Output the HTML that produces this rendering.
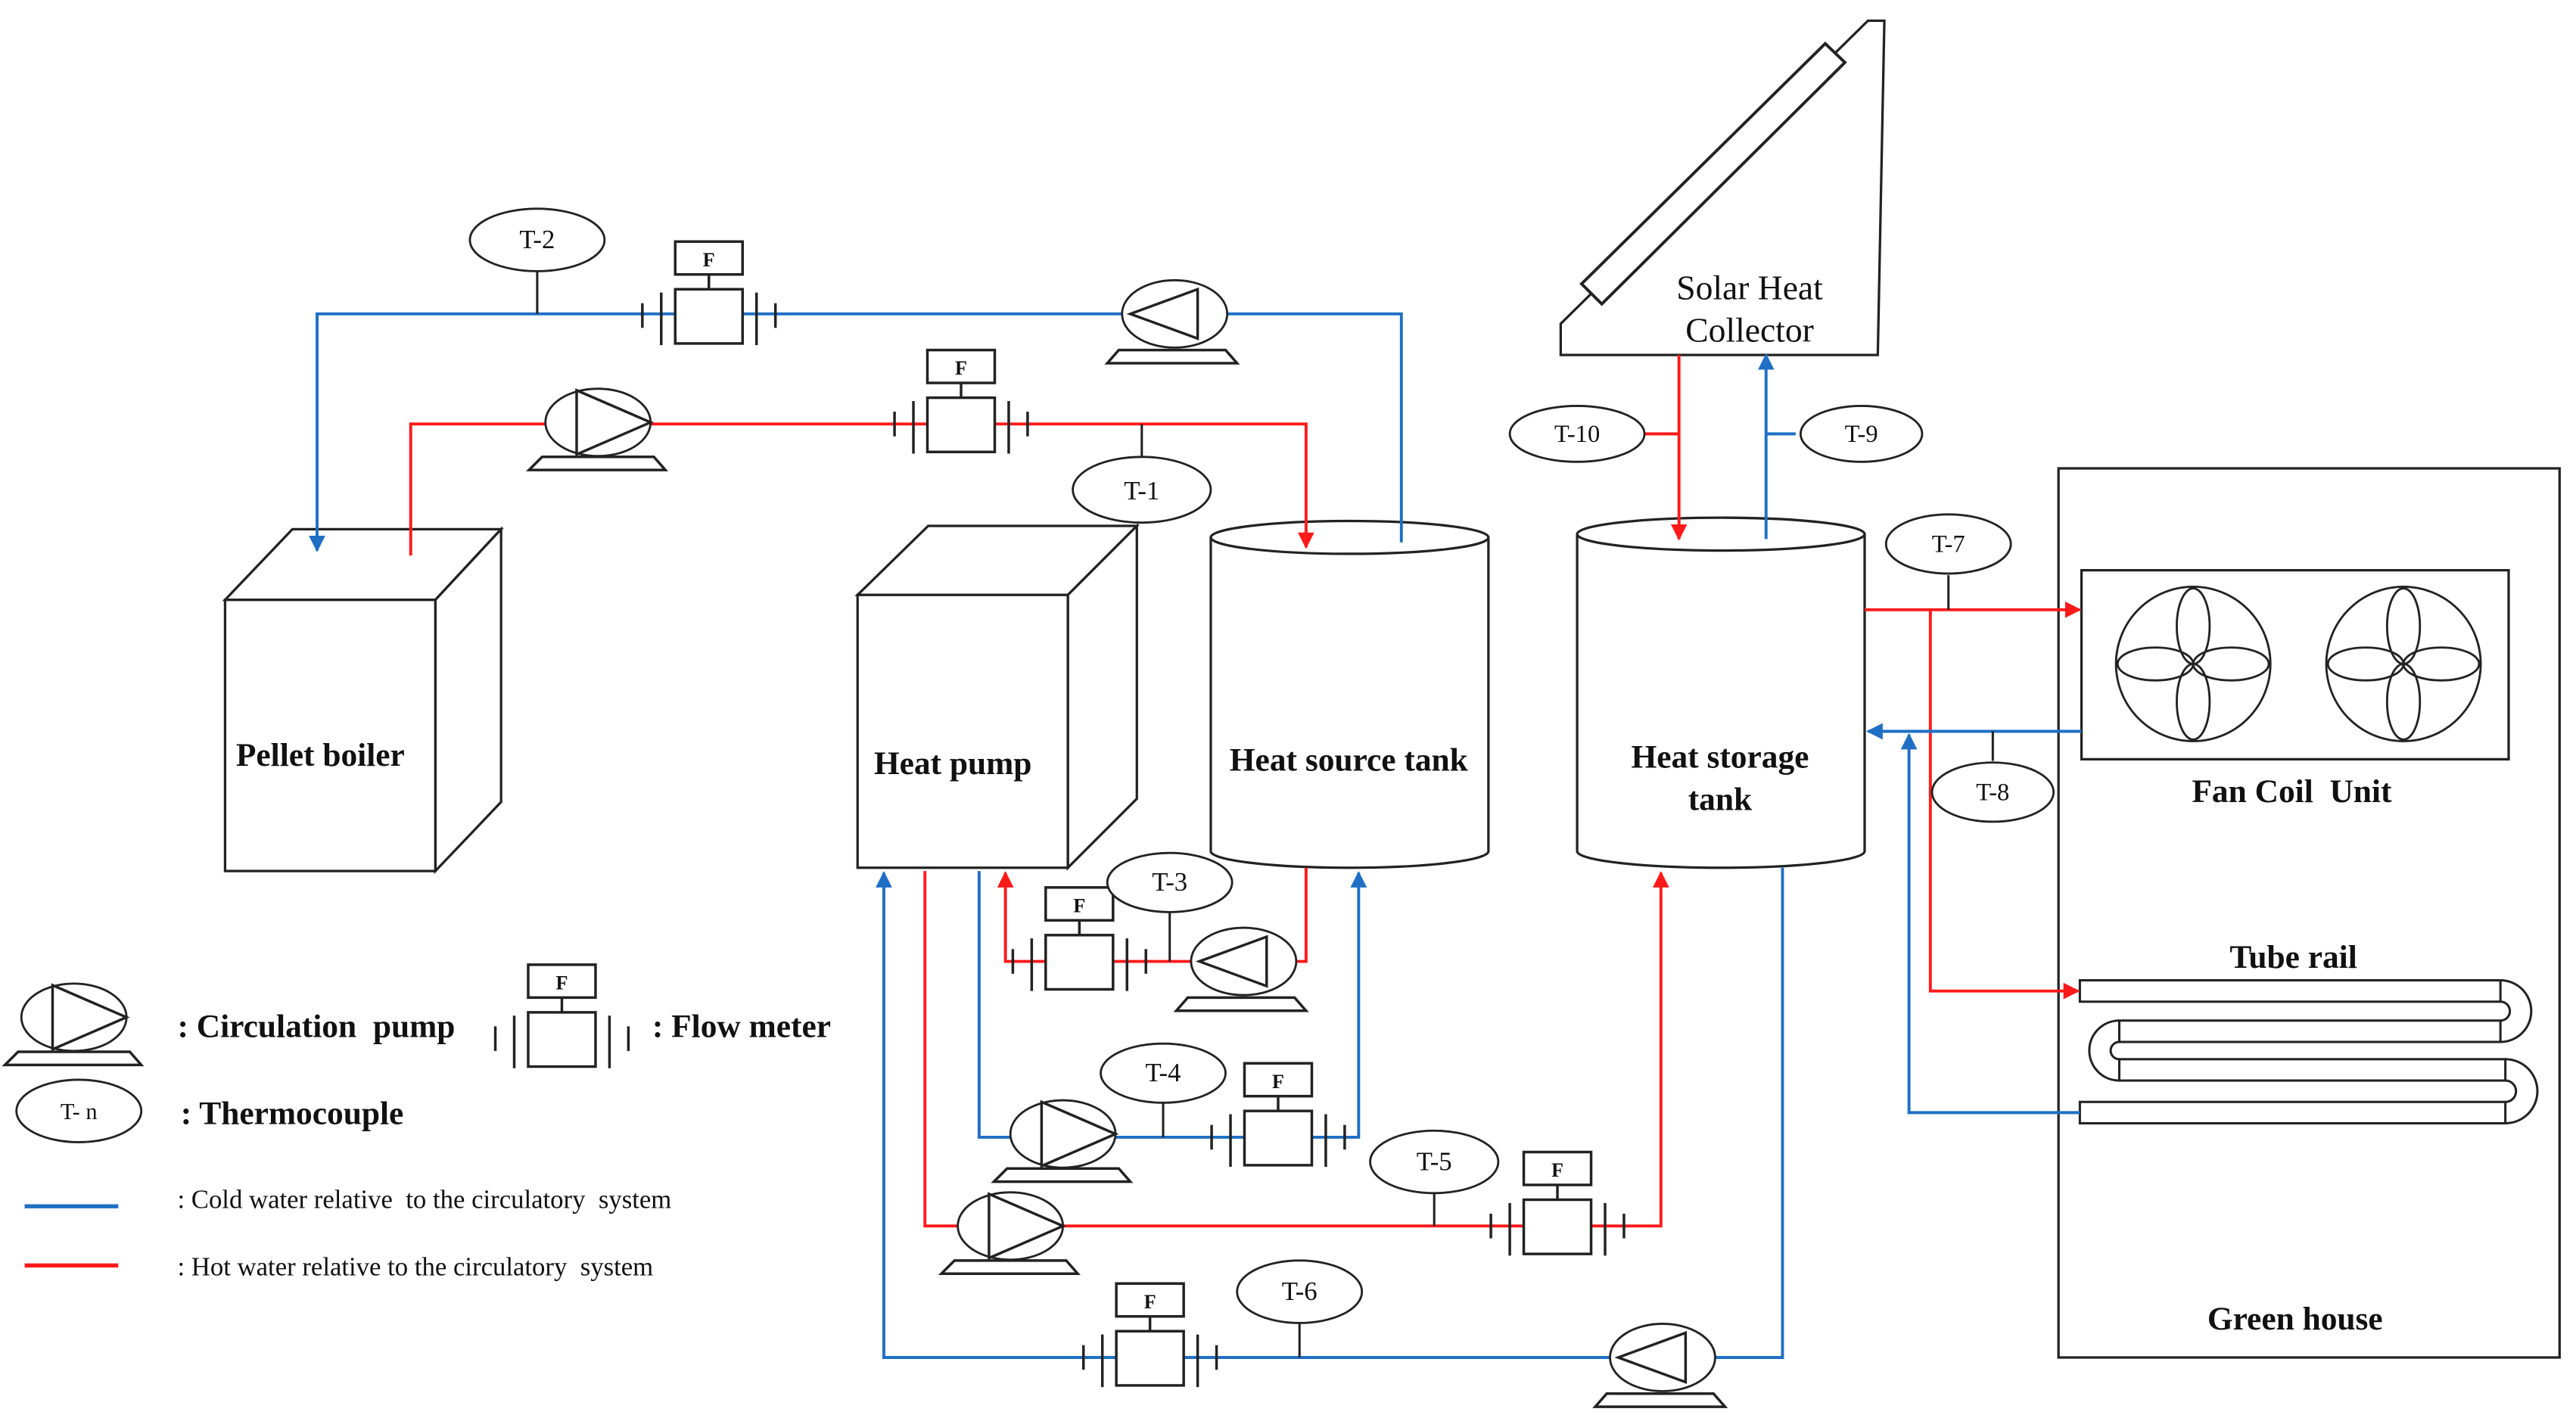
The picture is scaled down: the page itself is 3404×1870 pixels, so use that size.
<!DOCTYPE html>
<html><head><meta charset="utf-8"><style>
html,body{margin:0;padding:0;background:#fff;}
svg{display:block;font-family:"Liberation Serif","DejaVu Serif",serif;}
text{font-family:"Liberation Serif","DejaVu Serif",serif;fill:#111;}
</style></head><body>
<svg width="3404" height="1870" viewBox="0 0 1568 861" preserveAspectRatio="none" xmlns="http://www.w3.org/2000/svg">
<defs>
<marker id="ar" markerWidth="10" markerHeight="10" refX="9" refY="5" orient="auto" markerUnits="userSpaceOnUse"><path d="M0,0 L10,5 L0,10 z" fill="#ff1a1a"/></marker>
<marker id="ab" markerWidth="10" markerHeight="10" refX="9" refY="5" orient="auto" markerUnits="userSpaceOnUse"><path d="M0,0 L10,5 L0,10 z" fill="#1f6fc4"/></marker>
<g id="pumpR" fill="#fff" stroke="#222" stroke-width="1.3">
<ellipse cx="0" cy="0" rx="32" ry="20.5"/>
<path d="M-13,-19.5 L-13,19.5 L32,0 Z" fill="none" stroke-width="1.6"/>
<path d="M-34,21 L34,21 L41,29 L-42,29 Z" stroke-width="1.6"/>
</g>
<g id="pumpL" fill="#fff" stroke="#222" stroke-width="1.3">
<ellipse cx="0" cy="0" rx="32" ry="20.5"/>
<path d="M14,-15 L14,15 L-27,0 Z" fill="none" stroke-width="1.6"/>
<path d="M-34,22 L31,22 L38,30 L-41,30 Z" stroke-width="1.6"/>
</g>
<g id="fm" stroke="#222" stroke-width="1.6" fill="#fff">
<rect x="-20.5" y="-16" width="41" height="33"/>
<line x1="0" y1="-16" x2="0" y2="-25"/>
<rect x="-20.5" y="-45" width="41" height="20"/>
<line x1="-29" y1="-14" x2="-29" y2="18"/>
<line x1="-40.5" y1="-7.5" x2="-40.5" y2="7.5"/>
<line x1="29" y1="-14" x2="29" y2="18"/>
<line x1="40.5" y1="-7.5" x2="40.5" y2="7.5"/>
<text x="0" y="-30" text-anchor="middle" font-size="12" font-weight="bold" stroke="none">F</text>
</g>
</defs>

<g fill="#fff" stroke="#222" stroke-width="1.5">
<path d="M137,365 L178,322 L305,322 L265,365 Z"/>
<path d="M265,365 L305,322 L305,488 L265,530 Z"/>
<rect x="137" y="365" width="128" height="165"/>
<path d="M522,362 L565,320 L692,320 L650,362 Z"/>
<path d="M650,362 L692,320 L692,486 L650,528 Z"/>
<rect x="522" y="362" width="128" height="166"/>
<path d="M737,327 L737,518 A84.5,10 0 0 0 906,518 L906,327"/>
<ellipse cx="821.5" cy="327" rx="84.5" ry="10"/>
<path d="M960,325 L960,518 A87.5,10 0 0 0 1135,518 L1135,325"/>
<ellipse cx="1047.5" cy="325" rx="87.5" ry="10"/>
<path d="M950,216 L950,197 L1137,12.6 L1147,12.6 L1143,216 Z"/>
<path d="M962.7,172.7 L975,185 L1123,38 L1111,26.5 Z" stroke-width="1.8"/>
<rect x="1253" y="285" width="305" height="541"/>
<rect x="1267" y="347" width="260" height="115"/>
</g>
<g fill="none" stroke="#222" stroke-width="1.3">
<g transform="translate(1335,404)">
<circle r="47"/>
<ellipse cx="0" cy="-23" rx="10" ry="23"/><ellipse cx="0" cy="23" rx="10" ry="23"/>
<ellipse cx="-23" cy="0" rx="23" ry="10"/><ellipse cx="23" cy="0" rx="23" ry="10"/>
</g>
<g transform="translate(1463,404)">
<circle r="47"/>
<ellipse cx="0" cy="-23" rx="10" ry="23"/><ellipse cx="0" cy="23" rx="10" ry="23"/>
<ellipse cx="-23" cy="0" rx="23" ry="10"/><ellipse cx="23" cy="0" rx="23" ry="10"/>
</g>
</g>
<!-- tube rail -->
<g fill="none" stroke="#222" stroke-width="1.4">
<rect x="1266" y="596.5" width="256" height="13"/>
<rect x="1290" y="621" width="232" height="13"/>
<rect x="1290" y="644.5" width="235" height="13"/>
<rect x="1266" y="670.5" width="259" height="13"/>
<path d="M1522,596.5 A18.75,18.75 0 0 1 1522,634"/>
<path d="M1522,609.5 A5.75,5.75 0 0 1 1522,621"/>
<path d="M1290,621 A18.25,18.25 0 0 0 1290,657.5"/>
<path d="M1290,634 A5.25,5.25 0 0 0 1290,644.5"/>
<path d="M1525,644.5 A19.5,19.5 0 0 1 1525,683.5"/>
<path d="M1525,657.5 A6.5,6.5 0 0 1 1525,670.5"/>
</g>

<g fill="none" stroke-width="1.8">
<path d="M853,330 L853,191 L193,191 L193,335" stroke="#1f6fc4" marker-end="url(#ab)"/>
<path d="M250,338 L250,258 L795,258 L795,333" stroke="#ff1a1a" marker-end="url(#ar)"/>
<path d="M1022,216 L1022,328" stroke="#ff1a1a" marker-end="url(#ar)"/>
<path d="M1075,328 L1075,216" stroke="#1f6fc4" marker-end="url(#ab)"/>
<line x1="1000" y1="264" x2="1022" y2="264" stroke="#ff1a1a"/>
<line x1="1075" y1="264" x2="1093" y2="264" stroke="#1f6fc4"/>
<path d="M1135,371 L1266,371" stroke="#ff1a1a" marker-end="url(#ar)"/>
<path d="M1175,371 L1175,603 L1265,603" stroke="#ff1a1a" marker-end="url(#ar)"/>
<path d="M1267,445 L1137,445" stroke="#1f6fc4" marker-end="url(#ab)"/>
<path d="M1266,677 L1162,677 L1162,447" stroke="#1f6fc4" marker-end="url(#ab)"/>
<path d="M795,528 L795,585 L612,585 L612,531" stroke="#ff1a1a" marker-end="url(#ar)"/>
<path d="M596,530 L596,692 L827,692 L827,531" stroke="#1f6fc4" marker-end="url(#ab)"/>
<path d="M563,530 L563,746 L1011,746 L1011,531" stroke="#ff1a1a" marker-end="url(#ar)"/>
<path d="M1085,528 L1085,826 L538,826 L538,531" stroke="#1f6fc4" marker-end="url(#ab)"/>
<line x1="15" y1="734" x2="72" y2="734" stroke="#1f6fc4" stroke-width="2.5"/>
<line x1="15" y1="770" x2="72" y2="770" stroke="#ff1a1a" stroke-width="2.5"/>
</g>

<g stroke="#222" stroke-width="1.4">
<line x1="327" y1="164" x2="327" y2="191"/>
<line x1="695" y1="278" x2="695" y2="258"/>
<line x1="712" y1="555" x2="712" y2="585"/>
<line x1="708" y1="671" x2="708" y2="692"/>
<line x1="873" y1="726" x2="873" y2="746"/>
<line x1="791" y1="805" x2="791" y2="826"/>
<line x1="1186" y1="350" x2="1186" y2="371"/>
<line x1="1213" y1="445" x2="1213" y2="463"/>
</g>

<use href="#pumpL" x="715" y="191"/>
<use href="#pumpR" x="364" y="257"/>
<use href="#pumpL" x="757" y="585"/>
<use href="#pumpR" x="647" y="690"/>
<use href="#pumpR" x="615" y="746"/>
<use href="#pumpL" x="1012" y="826"/>
<use href="#pumpR" x="45" y="619"/>

<use href="#fm" x="431.5" y="192"/>
<use href="#fm" x="585" y="258"/>
<use href="#fm" x="657" y="585"/>
<use href="#fm" x="778" y="692"/>
<use href="#fm" x="948" y="746"/>
<use href="#fm" x="700" y="826"/>
<use href="#fm" x="342" y="632"/>

<g fill="#fff" stroke="#222" stroke-width="1.3">
<ellipse cx="327" cy="146" rx="41" ry="19"/>
<ellipse cx="695" cy="298" rx="42" ry="20"/>
<ellipse cx="712" cy="537" rx="38" ry="18"/>
<ellipse cx="708" cy="653" rx="38" ry="18"/>
<ellipse cx="873" cy="707" rx="39" ry="19"/>
<ellipse cx="791" cy="786" rx="38" ry="19"/>
<ellipse cx="960" cy="264" rx="41" ry="17"/>
<ellipse cx="1133" cy="264" rx="37" ry="17"/>
<ellipse cx="1186" cy="331" rx="38" ry="18"/>
<ellipse cx="1213" cy="482" rx="37" ry="18"/>
<ellipse cx="48" cy="676" rx="38" ry="19"/>
</g>
<g font-size="16" text-anchor="middle">
<text x="327" y="151">T-2</text>
<text x="695" y="304">T-1</text>
<text x="712" y="542">T-3</text>
<text x="708" y="658">T-4</text>
<text x="873" y="712">T-5</text>
<text x="791" y="791">T-6</text>
<text x="960" y="269" font-size="15">T-10</text>
<text x="1133" y="269" font-size="15">T-9</text>
<text x="1186" y="336" font-size="15">T-7</text>
<text x="1213" y="487" font-size="15">T-8</text>
<text x="48" y="681" font-size="14">T- n</text>
</g>

<g font-size="20" font-weight="bold" text-anchor="middle">
<text x="195" y="466">Pellet boiler</text>
<text x="580" y="471">Heat pump</text>
<text x="821" y="469">Heat source tank</text>
<text x="1047" y="467">Heat storage</text>
<text x="1047" y="493">tank</text>
<text x="1395" y="488">Fan Coil&#160; Unit</text>
<text x="1396" y="589">Tube rail</text>
<text x="1397" y="809">Green house</text>
</g>
<g font-size="21" text-anchor="middle">
<text x="1065" y="182">Solar Heat</text>
<text x="1065" y="208">Collector</text>
</g>
<g font-size="20" font-weight="bold">
<text x="108" y="631">: Circulation&#160; pump</text>
<text x="397" y="631">: Flow meter</text>
<text x="110" y="684">: Thermocouple</text>
</g>
<g font-size="16">
<text x="108" y="735">: Cold water relative&#160; to the circulatory&#160; system</text>
<text x="108" y="776">: Hot water relative to the circulatory&#160; system</text>
</g>
</svg>
</body></html>
